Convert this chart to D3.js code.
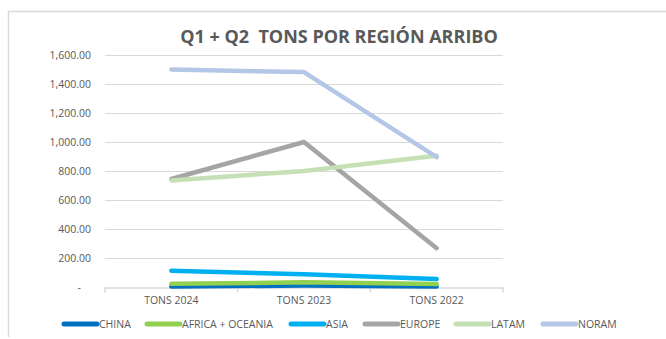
<!DOCTYPE html>
<html>
<head>
<meta charset="utf-8">
<script src="https://cdn.jsdelivr.net/npm/d3@7"></script>
<style>
  html, body { margin: 0; padding: 0; background: #fff; }
  svg { display: block; font-family: "Open Sans", "Liberation Sans", sans-serif; }
</style>
</head>
<body>
<svg id="chart" width="666" height="339"></svg>
<script>
const title = "Q1 + Q2  TONS POR REGIÓN ARRIBO";
const categories = ["TONS 2024", "TONS 2023", "TONS 2022"];
const seriesNames = ["CHINA", "AFRICA + OCEANIA", "ASIA", "EUROPE", "LATAM", "NORAM"];
const seriesColors = ["#0070C0", "#92D050", "#00B0F0", "#A5A5A5", "#C5E0B4", "#B4C7E7"];
const china = [4, 10, 4];
const africaOceania = [22, 32, 20];
const asia = [112, 88, 55];
const europe = [745, 1000, 268];
const latam = [735, 800, 905];
const noram = [1500, 1482, 895];
const yTicks = [0, 200, 400, 600, 800, 1000, 1200, 1400, 1600];

const seriesValues = [china, africaOceania, asia, europe, latam, noram];

const svg = d3.select("#chart");
const plot = { left: 105, right: 503, top: 55, bottom: 287 };

// frame
svg.append("line").attr("x1", 8).attr("x2", 666).attr("y1", 11.5).attr("y2", 11.5)
  .attr("stroke", "#d9d9d9").attr("stroke-width", 1.5);
svg.append("line").attr("x1", 8.5).attr("x2", 8.5).attr("y1", 11).attr("y2", 337)
  .attr("stroke", "#d9d9d9").attr("stroke-width", 1.5);

const x = d3.scaleBand().domain(categories).range([plot.left, plot.right]);
const y = d3.scaleLinear().domain([0, 1600]).range([plot.bottom, plot.top]);

// gridlines
svg.append("g").selectAll("line").data(yTicks.filter(d => d > 0)).join("line")
  .attr("x1", plot.left).attr("x2", plot.right)
  .attr("y1", d => Math.round(y(d)) + 0.5).attr("y2", d => Math.round(y(d)) + 0.5)
  .attr("stroke", "#d9d9d9").attr("stroke-width", 1);

// y axis labels
const fmt = d => d === 0 ? "-" : d3.format(",.2f")(d);
const yAxis = d3.axisLeft(y).tickValues(yTicks).tickFormat(fmt).tickSize(0).tickPadding(0);
const yg = svg.append("g").attr("transform", `translate(${plot.left - 14},0)`).call(yAxis);
yg.select(".domain").remove();
yg.selectAll("text").attr("fill", "#595959").attr("font-size", "10.5px")
  .attr("font-family", "'Open Sans', sans-serif");
yg.selectAll(".tick").filter(d => d === 0).select("text").attr("dx", "-10px");

// x axis
const xAxis = d3.axisBottom(x).tickSize(0).tickPadding(9);
const xg = svg.append("g").attr("transform", `translate(0,${plot.bottom + 0.5})`).call(xAxis);
xg.select(".domain").attr("stroke", "#d9d9d9").attr("stroke-width", 1.5);
xg.selectAll("text").attr("fill", "#595959").attr("font-size", "10.5px")
  .attr("font-family", "'Open Sans', sans-serif");
// category boundary tick marks
const bounds = categories.map(c => x(c)).concat([x(categories[categories.length - 1]) + x.bandwidth()]);
xg.selectAll(".bt").data(bounds).join("line").attr("class", "bt")
  .attr("x1", d => d).attr("x2", d => d).attr("y1", 0).attr("y2", 5)
  .attr("stroke", "#d9d9d9").attr("stroke-width", 1.5);

// lines
const line = d3.line()
  .x((d, i) => x(categories[i]) + x.bandwidth() / 2)
  .y(d => y(d));
svg.append("g").selectAll("path").data(seriesValues).join("path")
  .attr("d", d => line(d))
  .attr("fill", "none")
  .attr("stroke", (d, i) => seriesColors[i])
  .attr("stroke-width", 4.5)
  .attr("stroke-linecap", "round")
  .attr("stroke-linejoin", "round");

// title
svg.append("text").attr("x", 339).attr("y", 43).attr("text-anchor", "middle")
  .attr("font-size", "18px").attr("font-weight", "bold").attr("fill", "#595959")
  .attr("font-family", "'Open Sans', sans-serif")
  .style("white-space", "pre")
  .text(title);

// legend
const legendX = [64, 147, 291, 365, 456, 543];
const lg = svg.append("g").attr("transform", "translate(0,324)");
const items = lg.selectAll("g").data(seriesNames).join("g")
  .attr("transform", (d, i) => `translate(${legendX[i]},0)`);
items.append("line").attr("x1", 0).attr("x2", 33).attr("y1", 0).attr("y2", 0)
  .attr("stroke", (d, i) => seriesColors[i]).attr("stroke-width", 5)
  .attr("stroke-linecap", "round");
items.append("text").attr("x", 35).attr("y", 4).attr("font-size", "10.5px")
  .attr("fill", "#595959").attr("font-family", "'Open Sans', sans-serif")
  .text(d => d);
</script>
</body>
</html>
